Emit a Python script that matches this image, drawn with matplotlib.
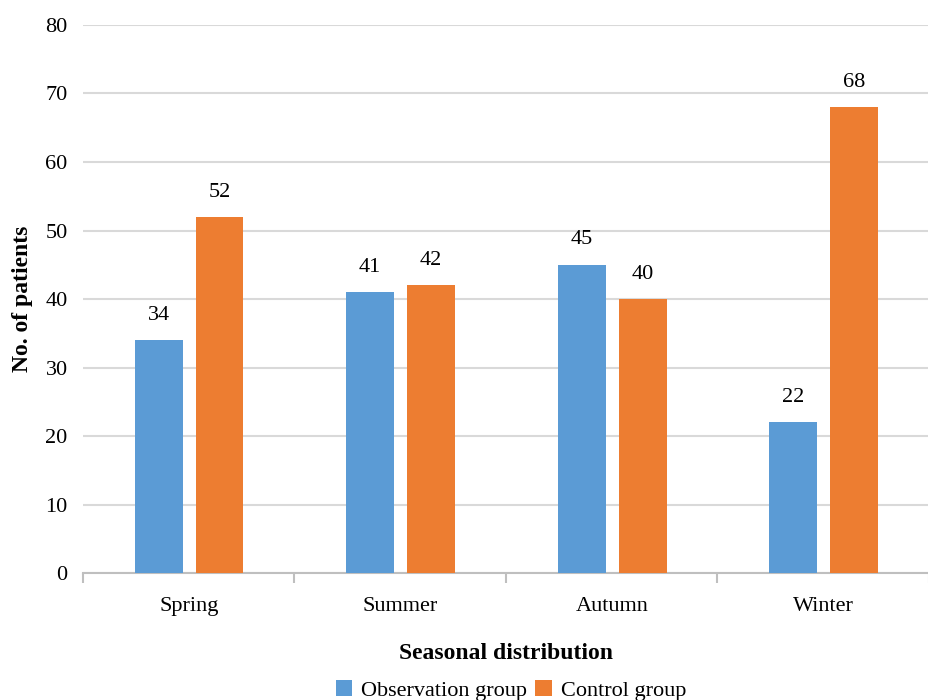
import numpy as np
import matplotlib.pyplot as plt

seasons = ["Spring", "Summer", "Autumn", "Winter"]
observation = [34, 41, 45, 22]
control = [52, 42, 40, 68]

plt.rcParams['font.family'] = ['Liberation Serif', 'DejaVu Serif']

fig = plt.figure(figsize=(9.29, 7.0), dpi=100)
ax = fig.add_axes([0.0893, 0.1814, 0.9107, 0.7829])

x = np.arange(len(seasons))
w = 0.226
b1 = ax.bar(x - 0.142, observation, w, color="#5b9bd5", label="Observation group", zorder=3)
b2 = ax.bar(x + 0.146, control, w, color="#ed7d31", label="Control group", zorder=3)

for bars, vals in [(b1, observation), (b2, control)]:
    for r, v in zip(bars, vals):
        ax.annotate(str(v), (r.get_x() + r.get_width() / 2, v), xytext=(0, 11),
                    textcoords="offset points", ha="center", va="bottom", fontsize=16)

ax.set_ylim(0, 80)
ax.set_yticks(range(0, 81, 10))
ax.set_xlim(-0.5, 3.5)
ax.set_xticks(x)
ax.set_xticklabels(seasons, fontsize=16)
ax.set_xticks(np.arange(-0.5, 4.0, 1.0), minor=True)
ax.tick_params(axis="x", which="major", length=0, pad=17)
ax.tick_params(axis="x", which="minor", length=7, color="#bfbfbf", width=1.5)
ax.tick_params(axis="y", length=0, labelsize=16, pad=11)
ax.yaxis.grid(True, color="#d9d9d9", linewidth=1.5, zorder=0)
for s in ["top", "right", "left"]:
    ax.spines[s].set_visible(False)
ax.spines["bottom"].set_color("#bfbfbf")
ax.spines["bottom"].set_linewidth(1.5)

ax.set_xlabel("Seasonal distribution", fontsize=17, fontweight="bold", labelpad=20)
ax.set_ylabel("No. of patients", fontsize=17, fontweight="bold", labelpad=9)

fig.legend(handles=[b1, b2], loc="lower center", bbox_to_anchor=(0.55, -0.03), ncol=2,
           frameon=False, fontsize=16, handlelength=0.75, handleheight=0.75,
           handletextpad=0.4, columnspacing=0.35)

plt.savefig("out.png", dpi=100)
